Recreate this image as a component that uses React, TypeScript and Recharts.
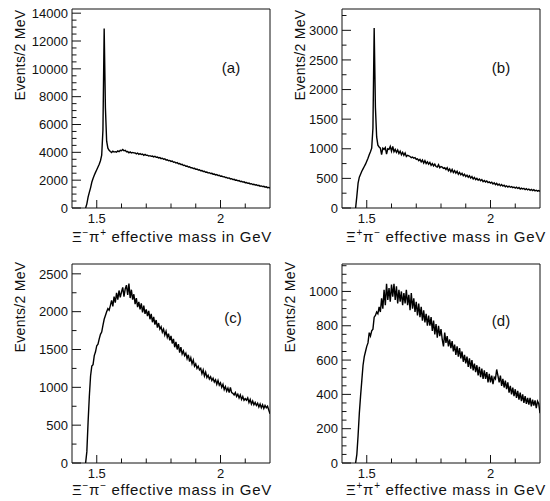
import React from 'react';
import { LineChart, Line, XAxis, YAxis, ReferenceArea, Customized } from 'recharts';

// ---------- data (GeV bin centres, counts per 2 MeV) ----------
const mass = [
  1.455, 1.46, 1.465, 1.47, 1.475, 1.48, 1.485, 1.49, 1.495, 1.5,
  1.505, 1.51, 1.515, 1.52, 1.525, 1.53, 1.535, 1.54, 1.545, 1.55,
  1.555, 1.56, 1.565, 1.57, 1.575, 1.58, 1.585, 1.59, 1.595, 1.6,
  1.605, 1.61, 1.615, 1.62, 1.625, 1.63, 1.635, 1.64, 1.645, 1.65,
  1.655, 1.66, 1.665, 1.67, 1.675, 1.68, 1.685, 1.69, 1.695, 1.7,
  1.705, 1.71, 1.715, 1.72, 1.725, 1.73, 1.735, 1.74, 1.745, 1.75,
  1.755, 1.76, 1.765, 1.77, 1.775, 1.78, 1.785, 1.79, 1.795, 1.8,
  1.805, 1.81, 1.815, 1.82, 1.825, 1.83, 1.835, 1.84, 1.845, 1.85,
  1.855, 1.86, 1.865, 1.87, 1.875, 1.88, 1.885, 1.89, 1.895, 1.9,
  1.905, 1.91, 1.915, 1.92, 1.925, 1.93, 1.935, 1.94, 1.945, 1.95,
  1.955, 1.96, 1.965, 1.97, 1.975, 1.98, 1.985, 1.99, 1.995, 2,
  2.005, 2.01, 2.015, 2.02, 2.025, 2.03, 2.035, 2.04, 2.045, 2.05,
  2.055, 2.06, 2.065, 2.07, 2.075, 2.08, 2.085, 2.09, 2.095, 2.1,
  2.105, 2.11, 2.115, 2.12, 2.125, 2.13, 2.135, 2.14, 2.145, 2.15,
  2.155, 2.16, 2.165, 2.17, 2.175, 2.18, 2.185, 2.19, 2.195, 2.2,
];

// (a) Xi- pi+
const countsA = [
  0, 300, 780, 1120, 1450, 1850, 2120, 2350, 2560, 2750,
  2950, 3150, 3400, 3800, 5600, 12900, 7200, 4800, 4300, 4150,
  4060, 3990, 4090, 4020, 4050, 4010, 4110, 4050, 4140, 4120,
  4200, 4110, 4140, 4040, 4060, 3970, 4030, 3950, 3990, 3960,
  3950, 3890, 3950, 3860, 3910, 3840, 3880, 3790, 3850, 3780,
  3790, 3730, 3760, 3710, 3730, 3670, 3720, 3640, 3660, 3600,
  3620, 3550, 3580, 3500, 3530, 3450, 3470, 3400, 3420, 3350,
  3370, 3290, 3310, 3230, 3260, 3180, 3200, 3120, 3140, 3060,
  3080, 3000, 3020, 2940, 2960, 2890, 2900, 2840, 2850, 2780,
  2800, 2730, 2750, 2680, 2690, 2620, 2640, 2570, 2590, 2520,
  2540, 2480, 2490, 2430, 2440, 2380, 2400, 2330, 2350, 2280,
  2300, 2240, 2250, 2190, 2200, 2140, 2160, 2090, 2110, 2040,
  2060, 2000, 2010, 1950, 1970, 1900, 1920, 1860, 1880, 1820,
  1830, 1770, 1790, 1730, 1750, 1690, 1710, 1650, 1670, 1610,
  1630, 1570, 1590, 1540, 1560, 1500, 1520, 1460, 1480, 1430,
];

// (b) Xi+ pi-
const countsB = [
  0, 200, 420, 520, 570, 620, 660, 700, 740, 790,
  840, 900, 950, 1010, 1350, 3040, 1700, 1200, 1060, 1030,
  1010, 900, 1010, 990, 1020, 910, 1000, 990, 1040, 960,
  1040, 950, 990, 940, 980, 920, 960, 900, 940, 890,
  930, 870, 890, 880, 870, 850, 860, 840, 850, 820,
  830, 800, 820, 780, 810, 760, 800, 750, 780, 740,
  770, 720, 750, 710, 740, 700, 690, 730, 680, 700,
  690, 670, 680, 650, 680, 630, 660, 610, 650, 600,
  630, 590, 620, 570, 600, 560, 585, 545, 570, 530,
  555, 520, 545, 505, 530, 490, 515, 480, 500, 470,
  490, 460, 480, 445, 465, 440, 455, 430, 440, 420,
  435, 405, 425, 395, 415, 385, 405, 375, 395, 370,
  385, 360, 375, 355, 370, 350, 360, 345, 355, 335,
  350, 330, 345, 320, 335, 320, 330, 310, 325, 305,
  320, 300, 315, 295, 310, 290, 300, 285, 295, 280,
];

// (c) Xi- pi-
const countsC = [
  0, 150, 540, 880, 1150, 1280, 1300, 1420, 1470, 1550,
  1570, 1640, 1700, 1730, 1820, 1900, 1950, 2000, 2040, 2020,
  2080, 2150, 2070, 2200, 2120, 2250, 2160, 2280, 2190, 2260,
  2320, 2200, 2300, 2350, 2220, 2370, 2180, 2290, 2160, 2230,
  2100, 2180, 2060, 2130, 2030, 2110, 1990, 2080, 1970, 2030,
  1940, 2010, 1900, 1970, 1860, 1930, 1830, 1890, 1790, 1850,
  1770, 1800, 1730, 1770, 1690, 1740, 1660, 1710, 1620, 1680,
  1580, 1640, 1530, 1600, 1500, 1570, 1460, 1530, 1440, 1480,
  1420, 1450, 1380, 1430, 1340, 1390, 1310, 1360, 1280, 1310,
  1250, 1280, 1230, 1250, 1180, 1230, 1150, 1200, 1130, 1160,
  1110, 1140, 1090, 1120, 1070, 1100, 1040, 1090, 1030, 1060,
  1000, 1040, 970, 1010, 950, 990, 930, 1000, 930, 920,
  900, 930, 880, 910, 860, 900, 840, 880, 830, 850,
  830, 860, 800, 840, 780, 820, 770, 800, 760, 790,
  740, 780, 730, 770, 720, 760, 730, 750, 700, 650,
];

// (d) Xi+ pi+
const countsD = [
  0, 50, 160, 290, 390, 480, 570, 620, 650, 680,
  700, 760, 740, 770, 780, 850, 860, 880, 870, 910,
  880, 960, 900, 1010, 920, 1045, 950, 1020, 940, 1040,
  970, 1045, 950, 1030, 930, 1010, 940, 1000, 920, 990,
  930, 1010, 920, 980, 890, 990, 900, 960, 880, 940,
  860, 930, 850, 910, 830, 890, 820, 870, 800, 860,
  800, 850, 770, 830, 750, 810, 730, 800, 740, 780,
  720, 680, 760, 700, 740, 680, 720, 670, 710, 650,
  690, 630, 680, 620, 670, 610, 650, 590, 630, 580,
  620, 560, 610, 550, 600, 540, 580, 530, 570, 510,
  560, 500, 550, 490, 540, 490, 530, 470, 520, 470,
  510, 460, 500, 490, 545, 510, 470, 510, 450, 490,
  440, 480, 430, 470, 410, 450, 400, 440, 390, 430,
  380, 420, 370, 410, 360, 400, 350, 390, 345, 380,
  340, 380, 330, 370, 335, 365, 320, 360, 345, 290,
];

// ---------- ticks ----------
const xMajor = [1.5, 2];
const xMajorLabels = ['1.5', '2'];
const xMinor = [1.6, 1.7, 1.8, 1.9, 2.1];

const yMajorA = [0, 2000, 4000, 6000, 8000, 10000, 12000, 14000];
const yMinorA = [500, 1000, 1500, 2500, 3000, 3500, 4500, 5000, 5500, 6500, 7000, 7500, 8500, 9000, 9500, 10500, 11000, 11500, 12500, 13000, 13500];
const yMajorB = [0, 500, 1000, 1500, 2000, 2500, 3000];
const yMinorB = [250, 750, 1250, 1750, 2250, 2750, 3250];
const yMajorC = [0, 500, 1000, 1500, 2000, 2500];
const yMinorC = [250, 750, 1250, 1750, 2250];
const yMajorD = [0, 200, 400, 600, 800, 1000];
const yMinorD = [50, 100, 150, 250, 300, 350, 450, 500, 550, 650, 700, 750, 850, 900, 950, 1050, 1100, 1150];

const rows = mass.map((x, i) => ({ x, a: countsA[i], b: countsB[i], c: countsC[i], d: countsD[i] }));

// ---------- styling ----------
const FONT = '"Liberation Sans", Arial, Helvetica, sans-serif';
const INK = '#111';
const Y_TICK_MARGIN = 4;
const X_TICK_MARGIN = 5;
const PLOT_H = 199;

function makeYTick(majors: number[]) {
  return (props: any) => {
    const { x, y, payload } = props;
    const v = payload.value;
    const major = majors.includes(v);
    const ax = x + Y_TICK_MARGIN;
    return (
      <g>
        <line x1={ax} x2={ax + (major ? 9 : 4.5)} y1={y} y2={y} stroke={INK} strokeWidth={1} />
        {major ? (
          <text x={x} y={y} dy="0.36em" textAnchor="end" fontFamily={FONT} fontSize={13} fill={INK}>
            {String(v)}
          </text>
        ) : null}
      </g>
    );
  };
}

const XTick = (props: any) => {
  const { x, y, payload } = props;
  const v = payload.value;
  const idx = xMajor.indexOf(v);
  const major = idx >= 0;
  const ay = y - X_TICK_MARGIN;
  return (
    <g>
      <line x1={x} x2={x} y1={ay} y2={ay - (major ? 8 : 4.5)} stroke={INK} strokeWidth={1} />
      {major ? (
        <text x={x} y={y} dy="0.75em" textAnchor="middle" fontFamily={FONT} fontSize={13} fill={INK}>
          {xMajorLabels[idx]}
        </text>
      ) : null}
    </g>
  );
};

type PanelProps = {
  dataKey: string;
  tag: string;
  sup1: string;
  sup2: string;
  yMax: number;
  yMajor: number[];
  yMinor: number[];
  left: number;
  top: number;
  height: number;
  yLabelX: number;
  yLabelY: number;
  xLabelX: number;
  xLabelY: number;
  tagX: number;
  tagY: number;
};

function Panel(p: PanelProps) {
  const yTicks = [...p.yMajor, ...p.yMinor].sort((m, n) => m - n);
  const xTicks = [...xMajor, ...xMinor].sort((m, n) => m - n);
  const Texts = () => (
    <g>
      <text
        x={p.yLabelX}
        y={p.yLabelY}
        transform={`rotate(-90, ${p.yLabelX}, ${p.yLabelY})`}
        textAnchor="middle"
        dominantBaseline="central"
        fontFamily={FONT}
        fontSize={14}
        letterSpacing={0.3}
        fill={INK}
      >
        Events/2 MeV
      </text>
      <text x={p.xLabelX} y={p.xLabelY} textAnchor="middle" fontFamily={FONT} fontSize={15} letterSpacing={0.7} fill={INK}>
        Ξ<tspan dy={-6} fontSize={10}>{p.sup1}</tspan>
        <tspan dy={6}>π</tspan>
        <tspan dy={-6} fontSize={10}>{p.sup2}</tspan>
        <tspan dy={6}> effective mass in GeV</tspan>
      </text>
      <text x={p.tagX} y={p.tagY} textAnchor="middle" dominantBaseline="central" fontFamily={FONT} fontSize={15} fill={INK}>
        {p.tag}
      </text>
    </g>
  );
  return (
    <div style={{ position: 'absolute', left: p.left, top: p.top }}>
      <LineChart width={280} height={p.height} data={rows} margin={{ top: 9, right: 10, left: 0, bottom: 0 }}>
        <XAxis
          dataKey="x"
          type="number"
          domain={[1.4, 2.2]}
          ticks={xTicks}
          interval={0}
          tickSize={0}
          tickMargin={X_TICK_MARGIN}
          axisLine={false}
          tickLine={false}
          tick={XTick}
          height={p.height - 9 - PLOT_H}
          allowDataOverflow
        />
        <YAxis
          type="number"
          domain={[0, p.yMax]}
          ticks={yTicks}
          interval={0}
          tickSize={0}
          tickMargin={Y_TICK_MARGIN}
          axisLine={false}
          tickLine={false}
          tick={makeYTick(p.yMajor)}
          width={72}
          allowDataOverflow
        />
        <ReferenceArea x1={1.4} x2={2.2} y1={0} y2={p.yMax} fill="none" stroke={INK} strokeWidth={1} ifOverflow="visible" />
        <Line dataKey={p.dataKey} type="linear" dot={false} stroke="#000" strokeWidth={1.4} isAnimationActive={false} />
        <Customized component={Texts} />
      </LineChart>
    </div>
  );
}

export default function App() {
  return (
    <div style={{ position: 'absolute', left: 0, top: 0, width: 550, height: 501, background: '#fff' }}>
      <Panel dataKey="a" tag="(a)" sup1="−" sup2="+" yMax={14300} yMajor={yMajorA} yMinor={yMinorA}
        left={0} top={0} height={250} yLabelX={20} yLabelY={55} xLabelX={172} xLabelY={242} tagX={231} tagY={67} />
      <Panel dataKey="b" tag="(b)" sup1="+" sup2="−" yMax={3360} yMajor={yMajorB} yMinor={yMinorB}
        left={270} top={0} height={250} yLabelX={30} yLabelY={55} xLabelX={176} xLabelY={242} tagX={231} tagY={67} />
      <Panel dataKey="c" tag="(c)" sup1="−" sup2="−" yMax={2630} yMajor={yMajorC} yMinor={yMinorC}
        left={0} top={255} height={246} yLabelX={20} yLabelY={52} xLabelX={172} xLabelY={240} tagX={233} tagY={62} />
      <Panel dataKey="d" tag="(d)" sup1="+" sup2="+" yMax={1160} yMajor={yMajorD} yMinor={yMinorD}
        left={270} top={255} height={246} yLabelX={20} yLabelY={52} xLabelX={176} xLabelY={240} tagX={231} tagY={65} />
    </div>
  );
}
